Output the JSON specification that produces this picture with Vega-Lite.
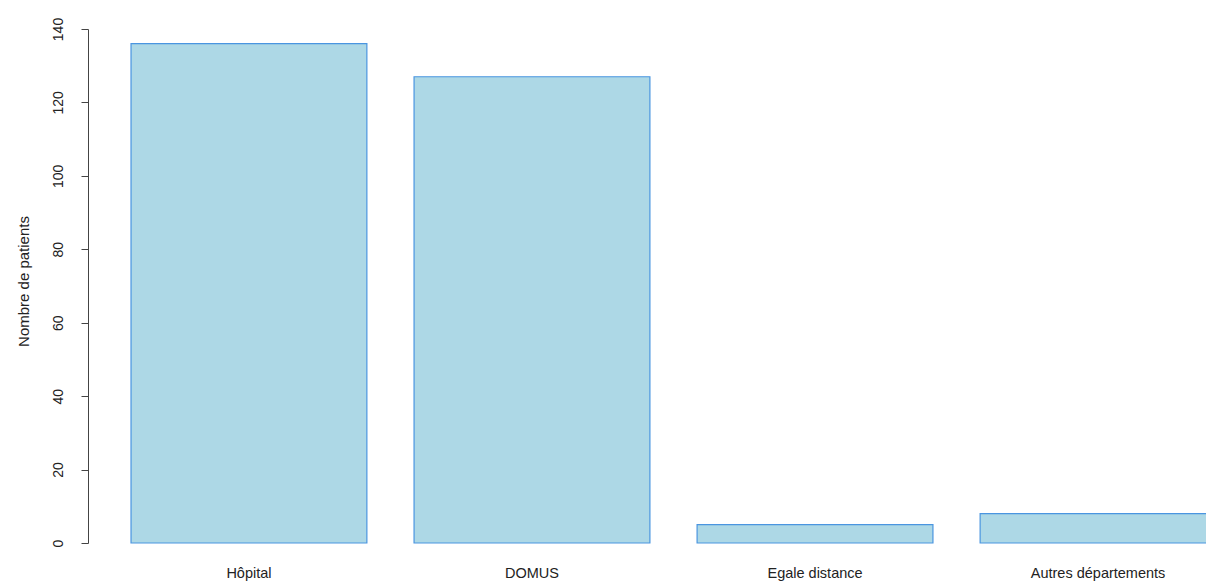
{
  "$schema": "https://vega.github.io/schema/vega-lite/v6.json",
  "autosize": {"type": "none"},
  "padding": {"left": 88, "top": 24, "right": 0, "bottom": 18},
  "width": 1118,
  "height": 539,
  "background": "white",
  "config": {
    "view": {"stroke": null},
    "font": "Liberation Sans",
    "axis": {"labelFont": "Liberation Sans", "titleFont": "Liberation Sans", "labelColor": "#222", "titleColor": "#222", "titleFontWeight": "normal"}
  },
  "data": {
    "values": [
      {"lieu": "Hôpital", "n": 136},
      {"lieu": "DOMUS", "n": 127},
      {"lieu": "Egale distance", "n": 5},
      {"lieu": "Autres départements", "n": 8}
    ]
  },
  "mark": {"type": "bar", "fill": "#add8e6", "stroke": "#4a95e0", "strokeWidth": 1.2, "clip": true},
  "encoding": {
    "x": {
      "field": "lieu",
      "type": "nominal",
      "sort": null,
      "scale": {"range": [0, 1171], "paddingInner": 0.1667, "paddingOuter": 0.152},
      "axis": {"title": null, "domain": false, "ticks": false, "labelAngle": 0, "labelFontSize": 14.5, "labelPadding": 3, "labelBaseline": "top"}
    },
    "y": {
      "field": "n",
      "type": "quantitative",
      "scale": {"domain": [0, 140], "range": [519, 5], "nice": false},
      "axis": {
        "title": "Nombre de patients",
        "titleFontSize": 15,
        "titleAngle": -90,
        "titleX": -65,
        "titleY": 257,
        "titleAlign": "center",
        "titleBaseline": "middle",
        "values": [0, 20, 40, 60, 80, 100, 120, 140],
        "grid": false,
        "domainColor": "#444",
        "tickColor": "#444",
        "tickSize": 7,
        "labelAngle": -90,
        "labelAlign": "center",
        "labelBaseline": "middle",
        "labelPadding": 23,
        "labelFontSize": 14
      }
    }
  }
}
